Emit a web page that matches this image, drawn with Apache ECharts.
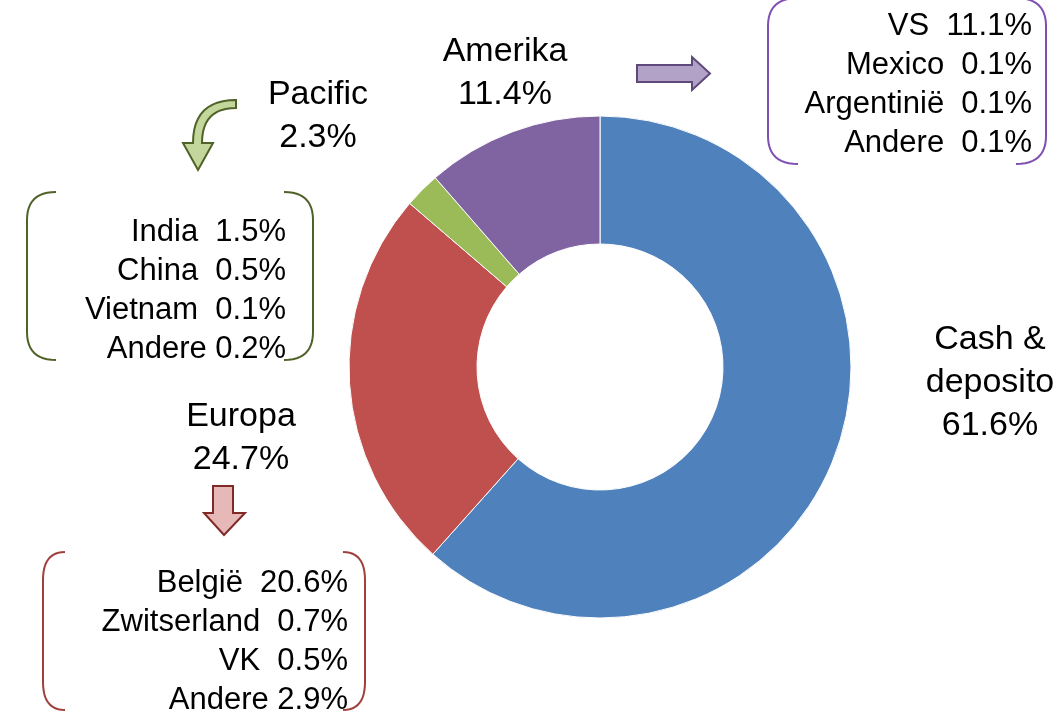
<!DOCTYPE html>
<html>
<head>
<meta charset="utf-8">
<script src="https://cdn.jsdelivr.net/npm/echarts@6/dist/echarts.min.js"></script>
<style>
    html, body {margin: 0; padding: 0; background: #fff;}
    #main {width: 1056px; height: 720px;}
</style>
</head>
<body>
<div id="main"></div>
<script>
    // hoofdverdeling (in %)
    var regions = ['Cash &\ndeposito', 'Europa', 'Pacific', 'Amerika'];
    var regionValues = [61.6, 24.7, 2.3, 11.4];
    var regionColors = ['#4F81BD', '#C0504D', '#9BBB59', '#8064A2'];

    // detail per regio
    var amerikaNames = ['VS', 'Mexico', 'Argentinië', 'Andere'];
    var amerikaValues = [11.1, 0.1, 0.1, 0.1];
    var pacificNames = ['India', 'China', 'Vietnam', 'Andere'];
    var pacificValues = [1.5, 0.5, 0.1, 0.2];
    var europaNames = ['België', 'Zwitserland', 'VK', 'Andere'];
    var europaValues = [20.6, 0.7, 0.5, 2.9];

    var FONT = 'Liberation Sans';

    function detailText(names, values) {
        return names.map(function (n, i) {
            var sep = n === 'Andere' && names !== amerikaNames ? ' ' : '  ';
            return n + sep + values[i].toFixed(1) + '%';
        }).join('\n');
    }

    // punten op een kwadratische curve
    function quad(p0, c, p1) {
        var pts = [];
        for (var k = 0; k <= 12; k++) {
            var t = k / 12, u = 1 - t;
            pts.push([u * u * p0[0] + 2 * u * t * c[0] + t * t * p1[0],
                u * u * p0[1] + 2 * u * t * c[1] + t * t * p1[1]]);
        }
        return pts;
    }

    function side(xEdge, xStub, y0, y1, r) {
        return quad([xStub, y0], [xEdge, y0], [xEdge, y0 + r])
            .concat(quad([xEdge, y1 - r], [xEdge, y1], [xStub, y1]));
    }

    function bracket(x0, y0, x1, y1, s, r, color) {
        return [side(x0, x0 + s, y0, y1, r), side(x1, x1 - s, y0, y1, r)].map(function (pts) {
            return {
                type: 'polyline',
                shape: {points: pts},
                style: {fill: null, stroke: color, lineWidth: 2}
            };
        });
    }

    function box(x, y, txt) {
        return {
            type: 'text',
            x: x,
            y: y,
            style: {
                text: txt,
                fill: '#000',
                fontSize: 31,
                fontFamily: FONT,
                align: 'right',
                verticalAlign: 'middle',
                lineHeight: 39
            }
        };
    }

    function arrow(pts, fill, stroke) {
        return {
            type: 'polygon',
            shape: {points: pts},
            style: {fill: fill, stroke: stroke, lineWidth: 2}
        };
    }

    var curved = quad([236, 100], [193, 100], [193, 143])
        .concat([[183, 143], [198, 170], [213, 143]])
        .concat(quad([202, 143], [202, 108], [236, 108]));

    // plaats van de labels rond de ring
    var labelPos = [[990, 383], [241, 438], [318, 116], [505, 73]];

    var chart = echarts.init(document.getElementById('main'));

    var graphics = []
        .concat(bracket(768, -2, 1046, 164, 30, 28, '#7F4FB3'))
        .concat(bracket(27, 192, 313, 360, 29, 28, '#4F6228'))
        .concat(bracket(43, 552, 365, 710, 22, 28, '#A0403C'))
        .concat([
            box(1032, 85, detailText(amerikaNames, amerikaValues)),
            box(286, 291, detailText(pacificNames, pacificValues)),
            box(348, 642, detailText(europaNames, europaValues)),
            arrow([[637, 65], [692, 65], [692, 57], [710, 73.5], [692, 90], [692, 82], [637, 82]], '#B3A2C7', '#5F497A'),
            arrow([[213, 486], [233, 486], [233, 513], [245, 513], [224, 535], [204, 513], [213, 513]], '#E6B9B8', '#7F2A26'),
            arrow(curved, '#C3D69B', '#4F6228')
        ]);

    chart.setOption({
        backgroundColor: '#fff',
        animation: false,
        graphic: graphics,
        series: [{
            type: 'pie',
            center: [600, 367],
            radius: [123, 251],
            startAngle: 90,
            clockwise: true,
            data: regions.map(function (n, i) {
                return {name: n, value: regionValues[i], itemStyle: {color: regionColors[i]}};
            }),
            itemStyle: {borderColor: '#fff', borderWidth: 1},
            label: {
                show: true,
                position: 'outside',
                formatter: function (p) {
                    return p.name + '\n' + p.value.toFixed(1) + '%';
                },
                color: '#000',
                fontSize: 34,
                fontFamily: FONT,
                lineHeight: 43,
                align: 'center'
            },
            labelLine: {show: false},
            labelLayout: function (p) {
                var pos = labelPos[p.dataIndex];
                return {x: pos[0], y: pos[1], align: 'center', verticalAlign: 'middle'};
            },
            emphasis: {disabled: true}
        }]
    });
</script>
</body>
</html>
